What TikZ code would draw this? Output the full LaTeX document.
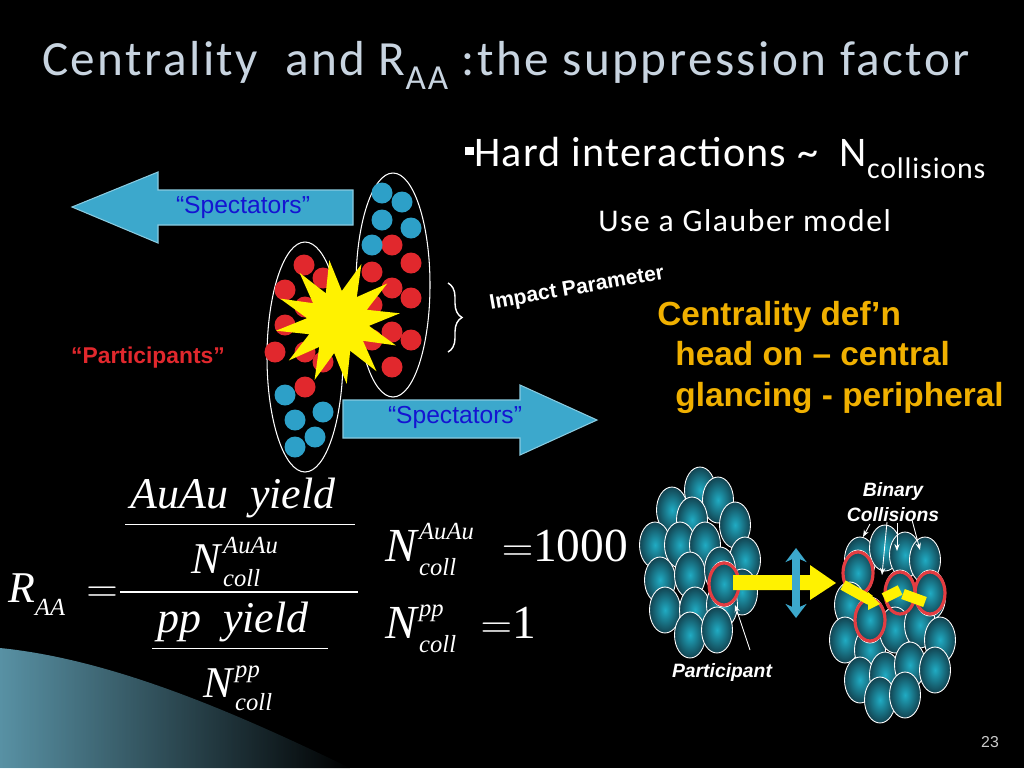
\documentclass[tikz,border=0pt]{standalone}
\usepackage{fontspec}
\setmainfont{Liberation Serif}
\newfontfamily\carl[LetterSpace=3]{Carlito}
\newfontfamily\carlwide[LetterSpace=5]{Carlito}
\newfontfamily\arial{Liberation Sans}
\usetikzlibrary{shapes.geometric, decorations.pathreplacing, arrows.meta, positioning}
\definecolor{titlegray}{RGB}{200,212,224}
\definecolor{arrowblue}{RGB}{60,168,204}
\definecolor{spectext}{RGB}{20,20,210}
\definecolor{partred}{RGB}{225,40,45}
\definecolor{dotblue}{RGB}{45,160,200}
\definecolor{centorange}{RGB}{240,176,0}
\definecolor{nucteal}{RGB}{40,150,180}
\newcommand{\Nsym}[2]{\textit{N}\raisebox{0.45em}{\rlap{\fontsize{14}{14}\selectfont\textit{#1}}}\raisebox{-0.3em}{\fontsize{14}{14}\selectfont\textit{#2}}}
\tikzset{
  reddot/.style={circle, fill=partred, minimum size=21*0.02cm, inner sep=0pt},
  bluedot/.style={circle, fill=dotblue, minimum size=21*0.02cm, inner sep=0pt},
  nucleon/.style={ellipse, draw=white, line width=0.5pt, inner color=nucteal!80!cyan, outer color=nucteal!45!black, minimum width=31*0.02cm, minimum height=46*0.02cm, inner sep=0pt},
  ring/.style={ellipse, draw=partred!90!white, line width=1.8pt, minimum width=30*0.02cm, minimum height=42*0.02cm, inner sep=0pt},
  bigarrow/.style={fill=arrowblue, draw=arrowblue!60!white, line width=0.6pt},
  pointer/.style={draw=white, line width=0.5pt, -{Stealth[length=4pt]}},
  lbl/.style={text=white, font=\arial\bfseries\itshape\fontsize{11}{12}\selectfont, inner sep=0pt},
  centline/.style={anchor=base west, text=centorange, font=\arial\bfseries\fontsize{19}{22}\selectfont, inner sep=0pt},
  mathtext/.style={text=white, font=\fontsize{25}{27}\selectfont, inner sep=0pt}
}
\begin{document}
\begin{tikzpicture}[x=0.02cm, y=-0.02cm]
\fill[black] (0,0) rectangle (1024,768);
\useasboundingbox (0,0) rectangle (1024,768);

% title and text
\node[anchor=base west, text=titlegray, font=\carlwide\fontsize{28}{30}\selectfont, inner sep=0pt] (title) at (42,75) {Centrality\ \ and R\raisebox{-0.3em}{\fontsize{20}{20}\selectfont AA} :the suppression factor};
\node[anchor=base west, text=white, font=\carl\fontsize{24}{26}\selectfont, inner sep=0pt] (hard) at (465,166) {\raisebox{0.25em}{\rule{5pt}{5pt}}Hard interactions \textasciitilde\ \ N\raisebox{-0.3em}{\fontsize{17}{17}\selectfont collisions}};
\node[anchor=base west, text=white, font=\carlwide\fontsize{18}{20}\selectfont, inner sep=0pt] (glauber) at (598,231) {Use a Glauber model};

% spectator arrows
\fill[bigarrow] (353,190) -- (158,190) -- (158,172) -- (72,207) -- (158,243) -- (158,225) -- (353,225) -- cycle;
\node[text=spectext, font=\arial\fontsize{14}{16}\selectfont] (spec1) at (243,207) {“Spectators”};
\fill[bigarrow] (343,400) -- (520,400) -- (520,385) -- (597,420) -- (520,455) -- (520,438) -- (343,438) -- cycle;
\node[text=spectext, font=\arial\fontsize{14}{16}\selectfont] (spec2) at (455,417) {“Spectators”};

% nuclei
\draw[white, line width=0.6pt] (305,357) ellipse (38 and 115);
\draw[white, line width=0.6pt] (393,285) ellipse (37 and 112);
\foreach \p in {(304,265),(285,290),(323,278),(305,307),(285,325),(275,352),(305,352),(323,362),(305,387),(330,317),
  (392,245),(372,272),(411,263),(392,288),(411,298),(372,305),(392,332),(411,340),(372,340),(392,367)}
  \node[reddot] at \p {};
\foreach \p in {(285,395),(323,412),(295,420),(315,437),(295,447),
  (382,193),(402,202),(382,220),(411,228),(372,245)}
  \node[bluedot] at \p {};
\node[star, star points=12, star point ratio=2.0, fill=yellow, minimum size=125*0.02cm, inner sep=0pt, rotate=8] (bang) at (338,322) {};

% brace and labels
\draw[white, line width=0.8pt, decorate, decoration={brace, amplitude=8pt}] (448,283) -- (448,352);
\node[text=white, font=\arial\bfseries\fontsize{12}{14}\selectfont, rotate=10] (impact) at (577,289) {Impact Parameter};
\node[text=partred, font=\arial\bfseries\fontsize{13}{15}\selectfont] (part) at (148,358) {“Participants”};
\node[centline] (cent) at (657,325) {Centrality def’n};
\node[centline] (head) at (675,365) {head on – central};
\node[centline] (glance) at (675,406) {glancing - peripheral};

% R_AA formula
\node[mathtext, anchor=base] (auyield) at (233,508) {\textit{AuAu\ \ yield}};
\draw[white, line width=0.5pt] (125,524) -- (355,524);
\node[mathtext, anchor=base] (nau) at (226,573) {\Nsym{AuAu}{coll}};
\draw[white, line width=1pt] (120,592) -- (358,592);
\node[mathtext, anchor=base] (ppyield) at (233,632) {\textit{pp\ \ yield}};
\draw[white, line width=0.5pt] (152,648) -- (328,648);
\node[mathtext, anchor=base] (npp) at (238,697) {\Nsym{pp}{coll}};
\node[mathtext, anchor=base west] (raa) at (8,602) {\textit{R}\raisebox{-0.3em}{\fontsize{14}{14}\selectfont\textit{AA}}\hspace{12pt}$=$};
\node[mathtext, anchor=base west, font=\fontsize{27}{29}\selectfont] (nauval) at (385,561) {\Nsym{AuAu}{coll}\hspace{26pt}$=$1000};
\node[mathtext, anchor=base west, font=\fontsize{27}{29}\selectfont] (nppval) at (385,638) {\Nsym{pp}{coll}\hspace{14pt}$=$1};

% bottom right nuclei
\foreach \p in {(700,490),(718,500),(672,510),(692,520),(735,525),(655,545),(680,545),(705,545),(745,560),
  (660,580),(690,575),(720,570),(742,592),(665,610),(695,610),(722,605),(690,635),(717,630),(724,584)}
  \node[nucleon] at \p {};
\foreach \p in {(860,560),(885,548),(905,555),(925,560),(858,573),(850,605),(900,593),(930,597),(845,640),(870,650),
  (895,630),(920,625),(940,640),(860,680),(885,675),(910,665),(935,670),(880,700),(905,695),(870,620),(930,593)}
  \node[nucleon] at \p {};
\foreach \p in {(724,584),(858,573),(870,620),(900,593),(930,593)}
  \node[ring] at \p {};
\fill[yellow] (733,575) -- (810,575) -- (810,565) -- (836,583) -- (810,600) -- (810,590) -- (733,590) -- cycle;
\draw[yellow, line width=6pt] (843,585) -- (870,600);
\fill[yellow] (868,592) -- (880,604) -- (868,610) -- cycle;
\draw[yellow, line width=6pt] (884,598) -- (900,590);
\draw[yellow, line width=6pt] (903,594) -- (925,602);
\draw[{Stealth[length=8pt,width=12pt]}-{Stealth[length=8pt,width=12pt]}, arrowblue, line width=4pt] (796,548) -- (796,618);

\node[lbl, align=center] (binary) at (893,502) {Binary\\[2pt]Collisions};
\draw[pointer] (870,524) -- (863,537);
\draw[pointer] (887,522) -- (882,575);
\draw[pointer] (897,523) -- (897,551);
\draw[pointer] (912,520) -- (920,550);
\node[lbl] (partic) at (722,672) {Participant};
\draw[pointer] (750,650) -- (735,605);

% bottom left sweep
\shade[left color=arrowblue!70!white, right color=black, opacity=0.75] (0,648) .. controls (120,660) and (250,720) .. (350,768) -- (0,768) -- cycle;
\node[text=white!80!black, font=\arial\fontsize{9}{10}\selectfont] (pagenum) at (990,742) {23};
\end{tikzpicture}
\end{document}
